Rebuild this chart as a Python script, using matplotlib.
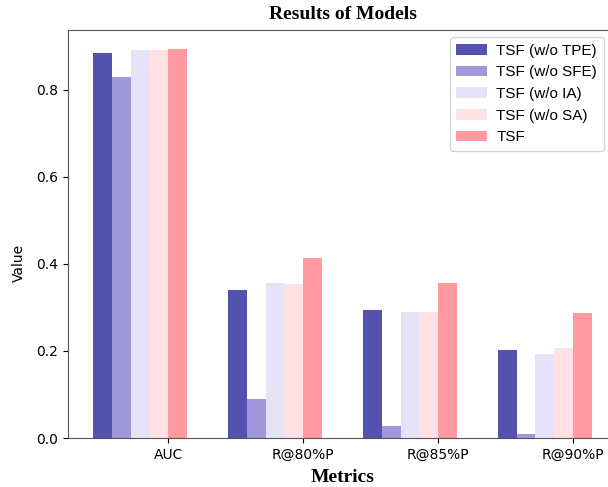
import numpy as np
import matplotlib
matplotlib.use("Agg")
import matplotlib.pyplot as plt

metrics = ["AUC", "R@80%P", "R@85%P", "R@90%P"]
models = ["TSF (w/o TPE)", "TSF (w/o SFE)", "TSF (w/o IA)", "TSF (w/o SA)", "TSF"]
colors = ["#5353AF", "#A098DA", "#E6E2F8", "#FFE0E4", "#FF9AA0"]

tpe = [0.883, 0.340, 0.294, 0.202]
sfe = [0.828, 0.090, 0.028, 0.010]
ia = [0.890, 0.356, 0.290, 0.193]
sa = [0.890, 0.354, 0.290, 0.207]
tsf = [0.892, 0.414, 0.356, 0.287]
values = [tpe, sfe, ia, sa, tsf]

fig = plt.figure(figsize=(6.08, 4.87), dpi=100)
ax = fig.add_axes([68 / 608, 49 / 487, 549 / 608, 408 / 487])

x = np.arange(len(metrics))
width = 0.14
for i, (vals, name, c) in enumerate(zip(values, models, colors)):
    ax.bar(x + i * width, vals, width, label=name, color=c, align="edge")

ax.set_xticks(x + 4 * width)
ax.set_xticklabels(metrics, fontsize=10)
ax.tick_params(axis="y", labelsize=10)
ax.set_yticks([0.0, 0.2, 0.4, 0.6, 0.8])

for s in ax.spines.values():
    s.set_color("#555555")

ax.set_title("Results of Models", fontweight="bold", family="Liberation Serif", fontsize=14, pad=8)
ax.set_xlabel("Metrics", fontweight="bold", family="Liberation Serif", fontsize=14, labelpad=5)
ax.set_ylabel("Value", fontsize=10)
ax.yaxis.set_label_coords(-0.076, 0.43)

ax.legend(loc="upper right", bbox_to_anchor=(0.976, 0.983), borderaxespad=0,
          prop={"family": "Liberation Sans", "size": 11}, labelspacing=0.5,
          handletextpad=0.6, borderpad=0.45)

fig.savefig("out.png", dpi=100)
